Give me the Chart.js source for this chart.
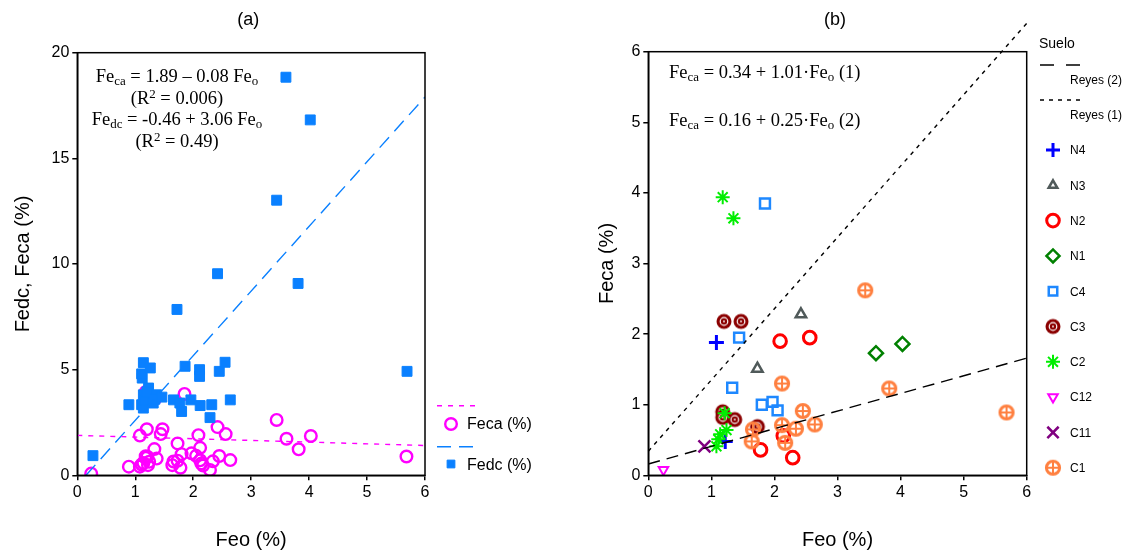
<!DOCTYPE html>
<html>
<head>
<meta charset="utf-8">
<script src="https://cdn.jsdelivr.net/npm/chart.js@4.4.1/dist/chart.umd.min.js"></script>
<style>
  body { margin: 0; background: #fff; width: 1123px; height: 556px; position: relative; overflow: hidden; }
  canvas { position: absolute; top: 0; }
  #chartA { left: 0; }
  #chartB { left: 560px; }
  .eq { position: absolute; font-family: "Liberation Serif", "Times New Roman", serif; font-size: 18.5px; line-height: 21.6px; color: #000; white-space: nowrap; }
  .eq sub { font-size: 0.7em; vertical-align: -0.22em; line-height: 0; }
  .eq sup { font-size: 0.7em; vertical-align: 0.45em; line-height: 0; }
</style>
</head>
<body>
<canvas id="chartA" width="560" height="556"></canvas>
<canvas id="chartB" width="563" height="556"></canvas>
<div class="eq" style="left:67px; top:66px; width:220px; text-align:center;">
  Fe<sub>ca</sub> = 1.89 – 0.08 Fe<sub>o</sub><br>(R<sup>2</sup> = 0.006)<br>Fe<sub>dc</sub> = -0.46 + 3.06 Fe<sub>o</sub><br>(R<sup>2</sup> = 0.49)
</div>
<div class="eq" style="left:669px; top:62px;">Fe<sub>ca</sub> = 0.34 + 1.01·Fe<sub>o</sub> (1)</div>
<div class="eq" style="left:669px; top:110px;">Fe<sub>ca</sub> = 0.16 + 0.25·Fe<sub>o</sub> (2)</div>
<script>
// Feca por suelo: pares [Feo, Feca]
const N4 = [[1.08, 1.88], [1.22, 0.48]];
const N3 = [[2.42, 2.28], [1.73, 1.51]];
const N2 = [[2.09, 1.90], [2.56, 1.95], [1.78, 0.36], [2.29, 0.25], [2.14, 0.56]];
const N1 = [[3.61, 1.73], [4.03, 1.86]];
const C4 = [[1.85, 3.85], [1.44, 1.95], [1.33, 1.24], [1.80, 1.00], [1.97, 1.04], [2.05, 0.92]];
const C3 = [[1.20, 2.18], [1.47, 2.18], [1.18, 0.90], [1.18, 0.82], [1.37, 0.79], [1.73, 0.69]];
const C2 = [[1.18, 3.94], [1.35, 3.64], [1.21, 0.88], [1.24, 0.64], [1.14, 0.58], [1.11, 0.51], [1.08, 0.41]];
const C12 = [[0.24, 0.08]];
const C11 = [[0.89, 0.41]];
const C1 = [[3.44, 2.62], [2.12, 1.30], [3.82, 1.23], [2.45, 0.91], [5.68, 0.89], [2.64, 0.72],
            [2.12, 0.71], [2.34, 0.66], [1.66, 0.65], [1.64, 0.48], [2.17, 0.46]];

// Fedc: pares [Feo, Fedc]
const FEDC = [[0.27, 0.93], [0.89, 3.34], [1.11, 3.34], [1.14, 3.18], [1.14, 3.81], [1.16, 3.55],
              [1.12, 4.60], [1.11, 4.80], [1.14, 5.33], [1.26, 5.08], [1.23, 4.13], [1.20, 3.95],
              [1.31, 3.42], [1.37, 3.81], [1.34, 3.60], [1.46, 3.70], [1.66, 3.57], [1.77, 3.42],
              [1.80, 3.02], [1.72, 7.85], [1.86, 5.16], [1.96, 3.57], [2.11, 5.00], [2.11, 4.68],
              [2.12, 3.30], [2.32, 3.34], [2.29, 2.73], [2.45, 4.92], [2.55, 5.35], [2.42, 9.54],
              [2.64, 3.57], [3.44, 13.02], [3.60, 18.84], [3.81, 9.08], [4.02, 16.82], [5.69, 4.92]];

// rectas de ajuste (extremos)
const fitFecaFeo = [0, 6],    fitFecaVal = [1.89, 1.41];
const fitFedcFeo = [0.15, 6], fitFedcVal = [0, 17.90];
const reyes1Feo = [0, 6],     reyes1Val = [0.34, 6.40];
const reyes2Feo = [0, 6],     reyes2Val = [0.16, 1.66];

const xTicks = [0, 1, 2, 3, 4, 5, 6];
const yTicksA = [0, 5, 10, 15, 20];
const yTicksB = [0, 1, 2, 3, 4, 5, 6];

const FONT = '"Liberation Sans", Arial, sans-serif';
Chart.defaults.font.family = FONT;
Chart.defaults.color = '#000';

const toPts = arr => arr.map(([x, y]) => ({ x, y }));
const toLine = (xs, ys) => xs.map((x, i) => ({ x, y: ys[i] }));

// iconos para C3 y C1
function icon(draw) {
  const c = document.createElement('canvas');
  c.width = 20; c.height = 20;
  draw(c.getContext('2d'));
  return c;
}
const iconC3 = icon(g => {
  g.fillStyle = '#8b0000';
  g.beginPath(); g.arc(10, 10, 7.5, 0, Math.PI * 2); g.fill();
  g.strokeStyle = '#fff';
  g.lineWidth = 1.2;
  g.beginPath(); g.arc(10, 10, 3.8, 0, Math.PI * 2); g.stroke();
  g.fillStyle = '#fff';
  g.beginPath(); g.arc(10, 10, 0.9, 0, Math.PI * 2); g.fill();
});
const iconC1 = icon(g => {
  g.strokeStyle = '#ff8040';
  g.lineWidth = 3;
  g.beginPath(); g.arc(10, 10, 6.6, 0, Math.PI * 2); g.stroke();
  g.lineWidth = 2;
  g.beginPath(); g.moveTo(3, 10); g.lineTo(17, 10); g.moveTo(10, 3); g.lineTo(10, 17); g.stroke();
});

function serie(label, pts, color, style, radius, width, extra) {
  return Object.assign({
    label, data: toPts(pts), pointStyle: style, pointRadius: radius, pointHoverRadius: radius,
    borderColor: color, pointBorderColor: color, backgroundColor: 'rgba(0,0,0,0)',
    pointBorderWidth: width, borderWidth: width
  }, extra || {});
}

function recta(label, xs, ys, color, dash, extra) {
  return Object.assign({
    label, data: toLine(xs, ys), showLine: true, pointRadius: 0, pointHoverRadius: 0,
    borderColor: color, borderWidth: 1.4, borderDash: dash, fill: false
  }, extra || {});
}

function scales(yTicks, yWidth, xHeight, yTitle, yTitlePad) {
  const axis = {
    type: 'linear',
    grid: { drawOnChartArea: false, drawTicks: true, tickLength: 5, color: '#000', lineWidth: 1.5 },
    border: { display: true, color: '#000', width: 1.5 },
    ticks: { font: { size: 16 }, color: '#000', padding: 3 }
  };
  return {
    x: Object.assign({}, axis, {
      position: 'bottom', min: xTicks[0], max: xTicks[xTicks.length - 1],
      afterBuildTicks: s => { s.ticks = xTicks.map(v => ({ value: v })); },
      afterFit: s => { s.height = xHeight; },
      title: { display: true, text: 'Feo (%)', font: { size: 20 }, color: '#000', padding: { top: 0, bottom: 4 } }
    }),
    y: Object.assign({}, axis, {
      position: 'left', min: yTicks[0], max: yTicks[yTicks.length - 1],
      afterBuildTicks: s => { s.ticks = yTicks.map(v => ({ value: v })); },
      afterFit: s => { s.width = yWidth; },
      title: { display: true, text: yTitle, font: { size: 20 }, color: '#000', padding: { top: yTitlePad, bottom: 0 } }
    })
  };
}

// marco del área y título del panel
const frame = {
  id: 'frame',
  afterDraw(chart, args, opts) {
    const { ctx, chartArea: a } = chart;
    ctx.save();
    ctx.strokeStyle = '#000';
    ctx.lineWidth = 1.5;
    ctx.strokeRect(a.left, a.top, a.right - a.left, a.bottom - a.top);
    ctx.fillStyle = '#000';
    ctx.font = '18px ' + FONT;
    ctx.textAlign = 'center';
    ctx.textBaseline = 'middle';
    ctx.fillText(opts.text, (a.left + a.right) / 2 + opts.dx, 20);
    ctx.restore();
  }
};

function sample(ctx, ds, x0, x1, y) {
  ctx.save();
  ctx.strokeStyle = ds.borderColor;
  ctx.lineWidth = ds.borderWidth;
  ctx.setLineDash(ds.borderDash || []);
  ctx.beginPath(); ctx.moveTo(x0, y); ctx.lineTo(x1, y); ctx.stroke();
  ctx.restore();
}
function marker(ctx, ds, x, y, r) {
  ctx.save();
  ctx.strokeStyle = ds.pointBorderColor;
  ctx.fillStyle = ds.backgroundColor;
  ctx.lineWidth = ds.pointBorderWidth;
  Chart.helpers.drawPoint(ctx, {
    pointStyle: ds.pointStyle, radius: r || ds.pointRadius,
    rotation: ds.pointRotation || 0, borderWidth: ds.pointBorderWidth
  }, x, y);
  ctx.restore();
}
function text(ctx, t, x, y, size) {
  ctx.save();
  ctx.fillStyle = '#000';
  ctx.font = size + 'px ' + FONT;
  ctx.textAlign = 'left';
  ctx.textBaseline = 'middle';
  ctx.fillText(t, x, y);
  ctx.restore();
}

const legendA = {
  id: 'legendA',
  afterDraw(chart) {
    const ctx = chart.ctx;
    const [lf, ld, pf, pd] = chart.data.datasets;
    sample(ctx, lf, 437, 478, 405.7);
    marker(ctx, pf, 451, 424);
    text(ctx, 'Feca (%)', 467, 425, 16);
    sample(ctx, ld, 437, 478, 446.7);
    marker(ctx, pd, 451, 464, 5.5);
    text(ctx, 'Fedc (%)', 467, 466, 16);
  }
};

const legendB = {
  id: 'legendB',
  afterDraw(chart) {
    const ctx = chart.ctx;
    const ds = chart.data.datasets;
    text(ctx, 'Suelo', 479, 44, 14);
    sample(ctx, Object.assign({}, ds[1], { borderDash: [14, 12] }), 480, 520, 65);
    text(ctx, 'Reyes (2)', 510, 81, 12);
    sample(ctx, ds[0], 480, 520, 100);
    text(ctx, 'Reyes (1)', 510, 116, 12);
    const items = ds.slice(2);
    items.forEach((d, i) => {
      const y = 150 + i * 35.3;
      marker(ctx, d, 493, y, d.legendRadius);
      text(ctx, d.label, 510, y + 1, 12);
    });
  }
};

const fecaAll = [].concat(N4, N3, N2, N1, C4, C3, C2, C12, C11, C1);

new Chart(document.getElementById('chartA'), {
  type: 'scatter',
  data: {
    datasets: [
      recta('ajuste Feca', fitFecaFeo, fitFecaVal, '#ff00ff', [5, 6], { order: 1 }),
      recta('ajuste Fedc', fitFedcFeo, fitFedcVal, '#0a80ff', [14, 8], { order: 1 }),
      serie('Feca (%)', fecaAll, '#ff00ff', 'circle', 5.8, 2.4, { order: 3 }),
      serie('Fedc (%)', FEDC, '#0a80ff', 'rect', 7, 1, { backgroundColor: '#0a80ff', order: 2 })
    ]
  },
  options: {
    responsive: false,
    animation: false,
    devicePixelRatio: 1,
    layout: { padding: { left: 0, top: 52.7, right: 135, bottom: 0 } },
    scales: scales(yTicksA, 77.3, 80.7, 'Fedc, Feca (%)', 11),
    plugins: {
      legend: { display: false },
      tooltip: { enabled: false },
      frame: { text: '(a)', dx: -3 }
    }
  },
  plugins: [frame, legendA]
});

new Chart(document.getElementById('chartB'), {
  type: 'scatter',
  data: {
    datasets: [
      recta('Reyes (1)', reyes1Feo, reyes1Val, '#000', [4, 5], { clip: false, order: 0 }),
      recta('Reyes (2)', reyes2Feo, reyes2Val, '#000', [12, 7], { order: 0 }),
      serie('N4', N4, '#0000ff', 'cross', 7.5, 3, { order: 10, legendRadius: 7 }),
      serie('N3', N3, '#505a5a', 'triangle', 6, 2.5, { order: 9, legendRadius: 5 }),
      serie('N2', N2, '#ff0000', 'circle', 6.3, 3, { order: 8 }),
      serie('N1', N1, '#008000', 'rectRot', 7, 2.5, { order: 7, legendRadius: 6.5 }),
      serie('C4', C4, '#1e88ff', 'rect', 7, 2.5, { order: 6, legendRadius: 6 }),
      serie('C3', C3, '#8b0000', iconC3, 8, 2, { order: 5 }),
      serie('C2', C2, '#00ee00', 'star', 7, 2, { order: 4 }),
      serie('C12', C12, '#ff00ff', 'triangle', 5.5, 2, { pointRotation: 180, order: 3 }),
      serie('C11', C11, '#800080', 'crossRot', 8.5, 2.5, { order: 2, legendRadius: 8 }),
      serie('C1', C1, '#ff8040', iconC1, 8, 2, { order: 1 })
    ]
  },
  options: {
    responsive: false,
    animation: false,
    devicePixelRatio: 1,
    layout: { padding: { left: 0, top: 51.7, right: 96.3, bottom: 0 } },
    scales: scales(yTicksB, 88.3, 80.7, 'Feca (%)', 35),
    plugins: {
      legend: { display: false },
      tooltip: { enabled: false },
      frame: { text: '(b)', dx: -2.5 }
    }
  },
  plugins: [frame, legendB]
});
</script>
</body>
</html>
